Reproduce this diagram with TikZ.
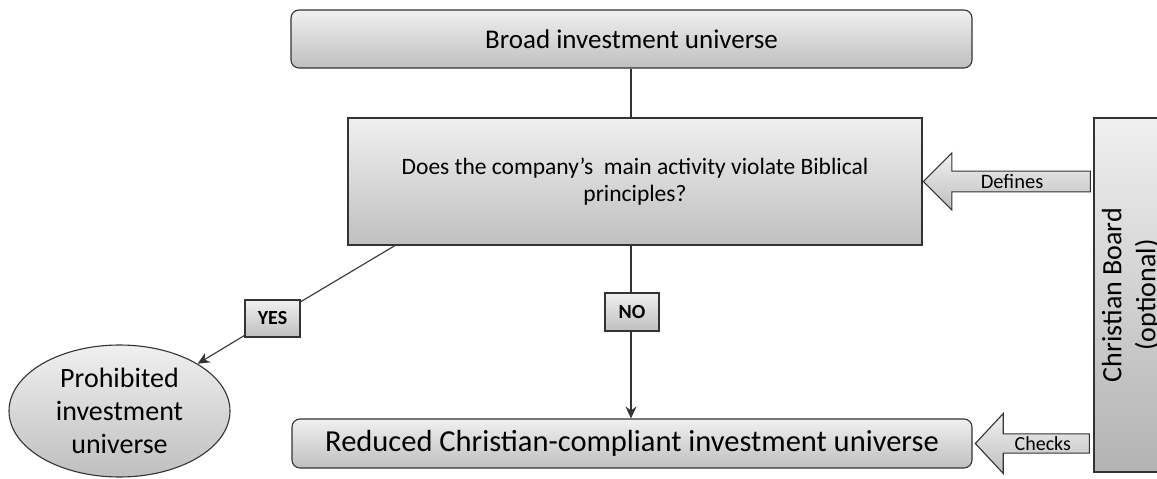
\documentclass[tikz,border=0pt]{standalone}
\usepackage{fontspec}
\setmainfont{Carlito}
\usetikzlibrary{shapes.geometric,shapes.arrows,arrows.meta}
\tikzset{
  greybox/.style={draw=black!80,line width=1.1pt,top color=black!6,bottom color=black!25,align=center},
  tagbox/.style={greybox,font=\fontsize{20}{22}\selectfont\bfseries,inner sep=0pt},
  fatarrow/.style={single arrow,draw=black!80,line width=1.1pt,top color=black!6,bottom color=black!25,shape border rotate=180,single arrow head indent=0pt,inner sep=0pt,anchor=tip,font=\fontsize{20.5}{22}\selectfont}
}
\begin{document}
\begin{tikzpicture}[x=1pt,y=-1pt]
    \useasboundingbox (0,0) rectangle (1157,479);
    \node[greybox,rounded corners=8pt,minimum width=681pt,minimum height=58pt,font=\fontsize{27}{30}\selectfont] (broad) at (631.5,39) {Broad investment universe};
    \node[greybox,minimum width=574pt,minimum height=127pt,font=\fontsize{23.5}{27}\selectfont] (question) at (635,181.5) {Does the company’s \ main activity violate Biblical\\principles?};
    \node[greybox,rounded corners=8pt,minimum width=680pt,minimum height=49pt,font=\fontsize{30.5}{32}\selectfont] (reduced) at (632,443.5) {Reduced Christian-compliant investment universe};
    \node[greybox,ellipse,minimum width=221pt,minimum height=132pt,inner sep=0pt,font=\fontsize{28}{33}\selectfont] (prohibited) at (119.5,411) {Prohibited\\investment\\universe};
    \node[draw=black!80,line width=1.1pt,top color=black!6,bottom color=black!30,rotate=90,minimum width=354pt,minimum height=74pt,align=center,font=\fontsize{28}{34}\selectfont] (board) at (1131,295) {Christian Board\\(optional)};
    \coordinate (mid) at (631,0);
    \coordinate (fork) at (395,0);
    \node[tagbox,minimum width=55pt,minimum height=37pt] (yes) at (272.5,318.5) {YES};
    \node[tagbox,minimum width=54pt,minimum height=38pt] (no) at (632,312) {NO};
    \draw[black!80,line width=1.1pt] (broad.south -| mid) -- (question.north -| mid);
    \draw[black!80,line width=1.1pt] (question.south -| mid) -- (no.north -| mid);
    \draw[black!80,line width=1.1pt,-{Stealth[length=12pt,width=11pt,inset=4pt]}] (no.south -| mid) -- (reduced.north -| mid);
    \draw[black!80,line width=1.1pt,-{Stealth[length=12pt,width=11pt,inset=4pt]}] (question.south -| fork) -- (yes) -- (prohibited);
    \node[fatarrow,minimum height=167pt,minimum width=57pt,single arrow head extend=13.5pt,single arrow tip angle=90] (defines) at (question.east) {Defines};
    \node[fatarrow,minimum height=114pt,minimum width=60pt,single arrow head extend=16pt,single arrow tip angle=94,font=\fontsize{20}{22}\selectfont] (checks) at ([xshift=2pt]reduced.east) {\hspace*{12pt}Checks};
\end{tikzpicture}
\end{document}
